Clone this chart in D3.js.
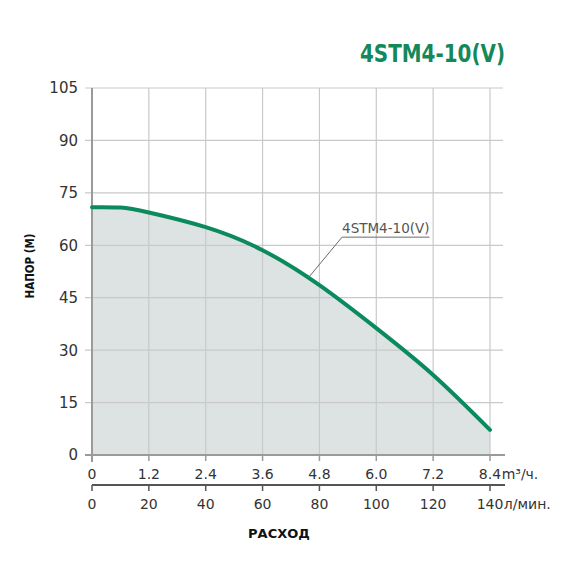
<!DOCTYPE html>
<html><head><meta charset="utf-8">
<script src="https://cdn.jsdelivr.net/npm/d3@7"></script>
<style>body{margin:0;background:#fff}svg{display:block}text{font-family:"DejaVu Sans",sans-serif}</style>
</head><body>
<svg id="c" width="570" height="570"></svg>
<script>
const title = "4STM4-10(V)";
const seriesName = "4STM4-10(V)";
const flow = [0, 0.6, 1.2, 2.4, 3.6, 4.8, 6.0, 7.2, 8.4];
const head = [70.9, 70.8, 69.4, 65.2, 58.6, 48.6, 36.3, 22.9, 7.2];
const xTicks = [0, 1.2, 2.4, 3.6, 4.8, 6.0, 7.2, 8.4];
const xTickLabels = ["0", "1.2", "2.4", "3.6", "4.8", "6.0", "7.2", "8.4"];
const lTicks = [0, 20, 40, 60, 80, 100, 120, 140];
const yTicks = [0, 15, 30, 45, 60, 75, 90, 105];
const unitM3 = "m³/ч.";
const unitL = "л/мин.";
const yTitle = "НАПОР (М)";
const xTitle = "РАСХОД";
const labelFlow = 4.56;

const svg = d3.select("#c");
const x = d3.scaleLinear().domain([0, 8.4]).range([92, 490]);
const xl = d3.scaleLinear().domain([0, 140]).range([92, 490]);
const y = d3.scaleLinear().domain([0, 105]).range([455, 88]);
const gridColor = "#c9c9c9";

const pts = flow.map((f, i) => [f, head[i]]);
const curve = d3.curveNatural;
svg.append("path").datum(pts)
  .attr("d", d3.area().x(d => x(d[0])).y0(y(0)).y1(d => y(d[1])).curve(curve))
  .attr("fill", "#dde2e3");

svg.append("g").selectAll("line").data(yTicks.filter(v => v > 0)).join("line")
  .attr("x1", 85).attr("x2", 503).attr("y1", d => y(d)).attr("y2", d => y(d))
  .attr("stroke", gridColor).attr("stroke-width", 1.2);
svg.append("g").selectAll("line").data(xTicks.filter(v => v > 0)).join("line")
  .attr("x1", d => x(d)).attr("x2", d => x(d)).attr("y1", y(105)).attr("y2", y(0))
  .attr("stroke", gridColor).attr("stroke-width", 1.2);

svg.append("line").attr("x1", x(0)).attr("x2", x(0)).attr("y1", y(105)).attr("y2", y(0) + 7)
  .attr("stroke", "#9a9a9a").attr("stroke-width", 2);
svg.append("line").attr("x1", 85).attr("x2", 505).attr("y1", y(0)).attr("y2", y(0))
  .attr("stroke", "#9a9a9a").attr("stroke-width", 2);

svg.append("g").selectAll("text").data(yTicks).join("text")
  .attr("x", 78).attr("y", d => y(d)).attr("dy", "0.36em")
  .attr("text-anchor", "end").attr("font-size", 15).attr("fill", "#333")
  .text(d => d);

svg.append("path").datum(pts)
  .attr("d", d3.line().x(d => x(d[0])).y(d => y(d[1])).curve(curve))
  .attr("fill", "none").attr("stroke", "#0b8a5e").attr("stroke-width", 4).attr("stroke-linecap", "round");

const interp = d3.scaleLinear().domain(flow).range(head);
const lx = x(labelFlow), ly = y(interp(labelFlow));
const label = svg.append("text").attr("x", lx + 34).attr("y", ly - 45)
  .attr("font-size", 13.5).attr("fill", "#555").text(seriesName);
const lw = label.node().getComputedTextLength();
svg.append("polyline")
  .attr("points", [[lx, ly], [lx + 34, ly - 41], [lx + 34 + lw, ly - 41]].map(p => p.join(",")).join(" "))
  .attr("fill", "none").attr("stroke", "#6a6a6a").attr("stroke-width", 1);

svg.append("g").selectAll("line").data(xTicks).join("line")
  .attr("x1", d => x(d)).attr("x2", d => x(d)).attr("y1", y(0)).attr("y2", y(0) + 6)
  .attr("stroke", "#9a9a9a").attr("stroke-width", 1.5);
const xt = svg.append("g").selectAll("text").data(xTicks).join("text")
  .attr("x", d => x(d)).attr("y", 479).attr("text-anchor", "middle")
  .attr("font-size", 14).attr("fill", "#333").text((d, i) => xTickLabels[i]);
const lastX = xt.filter((d, i) => i === xTicks.length - 1).node();
svg.append("text").attr("x", x(8.4) + lastX.getComputedTextLength() / 2 + 0.5).attr("y", 479)
  .attr("font-size", 14).attr("fill", "#333").text(unitM3);

svg.append("line").attr("x1", xl(0)).attr("x2", 505).attr("y1", 485).attr("y2", 485)
  .attr("stroke", "#555").attr("stroke-width", 2);
svg.append("g").selectAll("line").data(lTicks).join("line")
  .attr("x1", d => xl(d)).attr("x2", d => xl(d)).attr("y1", 485).attr("y2", 491)
  .attr("stroke", "#555").attr("stroke-width", 1.5);
const lt = svg.append("g").selectAll("text").data(lTicks).join("text")
  .attr("x", d => xl(d)).attr("y", 509).attr("text-anchor", "middle")
  .attr("font-size", 14).attr("fill", "#333").text(d => d);
const lastL = lt.filter((d, i) => i === lTicks.length - 1).node();
svg.append("text").attr("x", xl(140) + lastL.getComputedTextLength() / 2 + 0.5).attr("y", 509)
  .attr("font-size", 14).attr("fill", "#333").text(unitL);

svg.append("text").attr("x", 279).attr("y", 538).attr("text-anchor", "middle")
  .attr("font-size", 13).attr("font-weight", "bold").attr("fill", "#111").text(xTitle);
svg.append("text").attr("transform", "translate(34,266) rotate(-90)").attr("text-anchor", "middle")
  .attr("font-size", 13).attr("font-weight", "bold").attr("fill", "#111")
  .attr("textLength", 65).attr("lengthAdjust", "spacingAndGlyphs").text(yTitle);

svg.append("text").attr("x", 505).attr("y", 62).attr("text-anchor", "end")
  .attr("font-size", 25).attr("font-weight", "bold").attr("fill", "#13885b")
  .attr("textLength", 145).attr("lengthAdjust", "spacingAndGlyphs").text(title);
</script>
</body></html>
